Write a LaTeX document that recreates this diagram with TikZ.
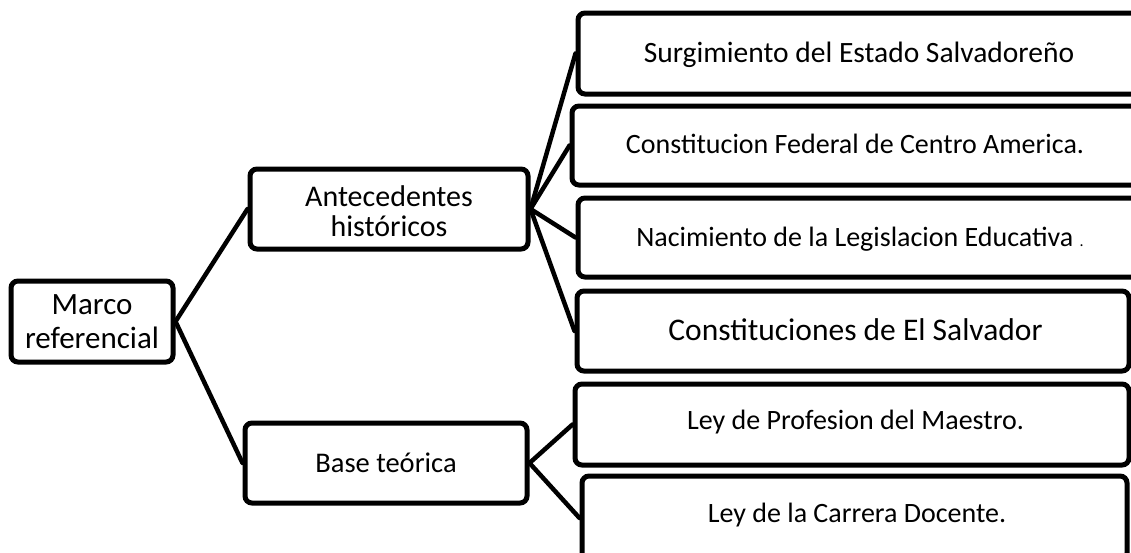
\documentclass[tikz,border=0pt]{standalone}
\usepackage{fontspec}
\setmainfont{Carlito}
\begin{document}
\begin{tikzpicture}[x=1pt,y=-1pt,
  box/.style={draw, line width=5pt, rounded corners=7pt, inner sep=0pt, fill=white},
  conn/.style={line width=4.5pt, line cap=round},
  lbl/.style={inner sep=0pt, anchor=base, font=\fontsize{28}{30}\selectfont}]
\useasboundingbox (0,0) rectangle (1131,552);
\clip (0,0) rectangle (1131,552);
% left column
\node[box, minimum width=162pt, minimum height=81pt, align=center,
      font=\fontsize{31}{34}\selectfont] (M) at (92,321.5) {Marco\\referencial};
\node[box, minimum width=278pt, minimum height=80pt] (A) at (389,209) {};
\node[box, minimum width=282pt, minimum height=80pt,
      font=\fontsize{28.5}{30}\selectfont] (B) at (386,463) {Base teórica};
% right column boxes
\node[box, minimum width=568pt, minimum height=81pt] (R1) at (862,53.5) {};
\node[box, minimum width=578pt, minimum height=79pt] (R2) at (861,145.5) {};
\node[box, minimum width=568pt, minimum height=79pt] (R3) at (862,237.5) {};
\node[box, minimum width=552pt, minimum height=80pt] (R4) at (853,331) {};
\node[box, minimum width=554pt, minimum height=81pt] (R5) at (852,424.5) {};
\node[box, minimum width=545pt, minimum height=84pt] (R6) at (854.5,518) {};
% texts
\node[inner sep=0pt, align=center, font=\fontsize{30}{30}\selectfont] (tA) at (389,211.5) {Antecedentes\\históricos};
\node[lbl, font=\fontsize{29.5}{30}\selectfont] (t1) at (859,62) {Surgimiento del Estado Salvadoreño};
\node[lbl] (t2) at (855,153) {Constitucion Federal de Centro America.};
\node[lbl] (t3) at (860,246) {Nacimiento de la Legislacion Educativa {\fontsize{16}{16}\selectfont .}};
\node[lbl, font=\fontsize{31.5}{33}\selectfont] (t4) at (855.5,340) {Constituciones de El Salvador};
\node[lbl] (t5) at (855.5,429) {Ley de Profesion del Maestro.};
\node[lbl] (t6) at (857,522) {Ley de la Carrera Docente.};
% connectors
\draw[conn] (M.east) -- (A.west);
\draw[conn] (M.east) -- (B.west);
\draw[conn] (A.east) -- (R1.west);
\draw[conn] (A.east) -- (R2.west);
\draw[conn] (A.east) -- (R3.west);
\draw[conn] (A.east) -- (R4.west);
\draw[conn] (B.east) -- (R5.west);
\draw[conn] (B.east) -- (R6.west);
\end{tikzpicture}
\end{document}
